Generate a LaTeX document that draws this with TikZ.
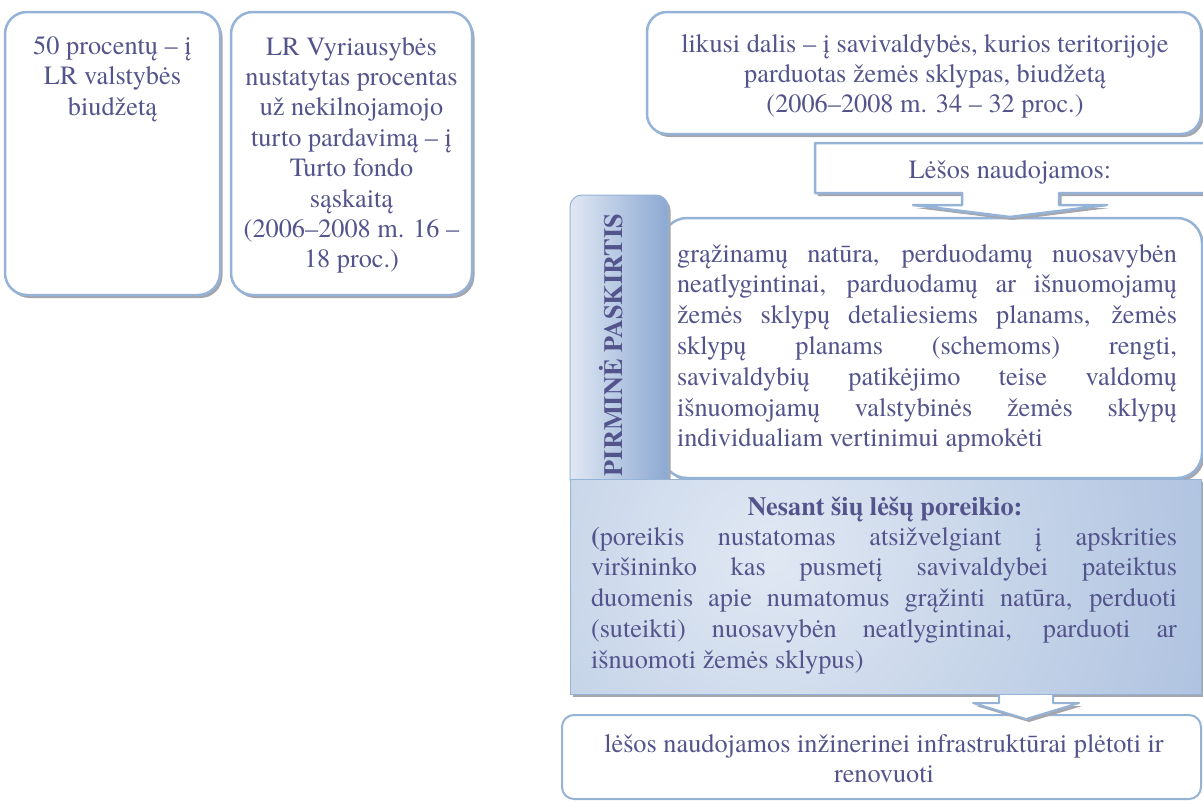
\documentclass[tikz,border=0pt]{standalone}
\usepackage{fontspec}
\IfFontExistsTF{texgyretermes-regular.otf}
  {\setmainfont{texgyretermes}[Extension=.otf,UprightFont=*-regular,BoldFont=*-bold,ItalicFont=*-italic,BoldItalicFont=*-bolditalic]}
  {\setmainfont{Liberation Serif}}
\usetikzlibrary{shadows}
\definecolor{txtc}{RGB}{84,84,140}
\definecolor{bordc}{RGB}{149,179,215}
\definecolor{shadc}{RGB}{165,165,172}
\definecolor{lightb}{RGB}{224,232,243}
\definecolor{darkb}{RGB}{140,168,210}
\newcommand{\jst}[2]{\makebox[#1][s]{#2}}
\begin{document}
\begin{tikzpicture}[x=1pt,y=-1pt,
 every node/.style={inner sep=0pt, outer sep=0pt},
 txt/.style={font=\fontsize{26.3}{30.5}\selectfont, text=txtc, anchor=base},
 txtl/.style={txt, anchor=base west},
 btxt/.style={txt, font=\bfseries\fontsize{26.3}{30.5}\selectfont},
 shd/.style={general shadow={fill=shadc, shadow xshift=2.5pt, shadow yshift=-3pt}},
 rbox/.style={draw=bordc, line width=2.5pt, fill=white, anchor=north west, rounded corners=#1},
]
\useasboundingbox (0,0) rectangle (1203,804);

% boxes
\node[rbox=22pt, shd, minimum width=215pt, minimum height=283pt] (b1) at (5,12) {};
\node[rbox=22pt, shd, minimum width=241pt, minimum height=283pt] (b2) at (231,12) {};
\node[rbox=20pt, shd, minimum width=554pt, minimum height=122pt] (b3) at (647,12) {};
\node[rbox=25pt, shd, minimum width=540pt, minimum height=260pt] (mb) at (662,218) {};

% tab
\path[shd, left color=lightb, right color=darkb, draw=bordc, line width=1pt]
  (570,480) [rounded corners=12pt]-- (570,195) -- (668,195) [sharp corners]-- (668,480) -- cycle;

% callout "Lesos naudojamos"
\path[shd, draw=bordc, line width=2.5pt, fill=white, line join=round]
  (815,143) -- (1206,143) -- (1206,193) -- (1059,193) -- (1059,205) -- (1107,205)
  -- (1010,217) -- (913,205) -- (962,205) -- (962,193) -- (815,193) -- cycle;

% Nesant box
\fill[shadc] (572.5,482) rectangle (1203.5,697);
\begin{scope}
\clip (570,479) rectangle (1201,694);
\shade[inner color=lightb, outer color=darkb] (770,555) circle (780pt);
\end{scope}
\node[draw=bordc, line width=1pt, anchor=north west, minimum width=631pt, minimum height=215pt] (nb) at (570,479) {};

% bottom box
\node[rbox=12pt, line width=2pt, minimum width=639pt, minimum height=84pt] (bb) at (562,715) {};

% bottom arrow
\fill[shadc] (976,706) -- (1029,722) -- (1082,706) -- cycle;
\filldraw[fill=white, draw=bordc, line width=2pt, line join=round]
  (999,695) -- (999,703) -- (973,703) -- (1026,719) -- (1079,703) -- (1053,703) -- (1053,695);

% texts
\foreach \t [count=\i] in {{50 procentų – į},{LR valstybės},{biudžetą}}
  \node[txt] (ta\i) at (112.5,{54+30.5*(\i-1)}) {\t};
\foreach \t [count=\i] in {{LR Vyriausybės},{nustatytas procentas},{už nekilnojamojo},{turto pardavimą – į},{Turto fondo},{sąskaitą},{(2006–2008 m. 16 –},{18 proc.)}}
  \node[txt] (tb\i) at (351.5,{55+30.4*(\i-1)}) {\t};
\foreach \t [count=\i] in {{likusi dalis – į savivaldybės, kurios teritorijoje},{parduotas žemės sklypas, biudžetą},{(2006–2008 m. 34 – 32 proc.)}}
  \node[txt] (tc\i) at (925,{52+30*(\i-1)}) {\t};
\node[txt] (lt) at (1010,178) {Lėšos naudojamos:};
\node[btxt, rotate=90] (tab) at (622,345) {PIRMINĖ PASKIRTIS};
\foreach \t [count=\i] in {{grąžinamų natūra, perduodamų nuosavybėn},{neatlygintinai, parduodamų ar išnuomojamų},{žemės sklypų detaliesiems planams, žemės},{sklypų planams (schemoms) rengti,},{savivaldybių patikėjimo teise valdomų},{išnuomojamų valstybinės žemės sklypų}}
  \node[txtl] (m\i) at (677,{262+30.8*(\i-1)}) {\jst{500pt}{\t}};
\node[txtl] (m7) at (677,{262+30.8*6}) {individualiam vertinimui apmokėti};
\node[btxt] (nt) at (885,515) {Nesant šių lėšų poreikio:};
\foreach \t [count=\i] in {{\textbf{(}poreikis nustatomas atsižvelgiant į apskrities},{viršininko kas pusmetį savivaldybei pateiktus},{duomenis apie numatomus grąžinti natūra, perduoti},{(suteikti) nuosavybėn neatlygintinai, parduoti ar}}
  \node[txtl] (n\i) at (591,{545+30.8*(\i-1)}) {\jst{586pt}{\t}};
\node[txtl] (n5) at (591,{545+30.8*4}) {išnuomoti žemės sklypus)};
\node[txt] (bt1) at (884,752) {lėšos naudojamos inžinerinei infrastruktūrai plėtoti ir};
\node[txt] (bt2) at (884,782) {renovuoti};
\end{tikzpicture}
\end{document}
